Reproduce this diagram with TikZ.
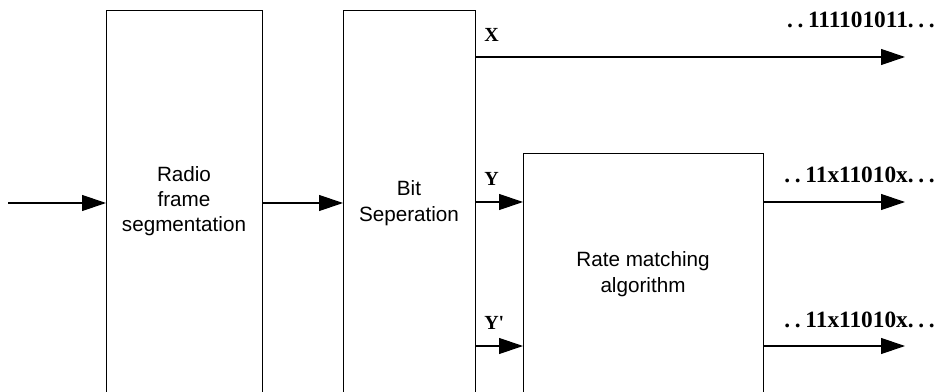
\documentclass[tikz,border=0pt]{standalone}
\usepackage{fontspec}
\setmainfont{Liberation Serif}
\setsansfont{Liberation Sans}
\usetikzlibrary{arrows.meta}
\newcommand{\dsp}{\hspace{3.5pt}}
\begin{document}
\begin{tikzpicture}[x=0.75pt,y=-0.75pt,
  blk/.style={draw,line width=0.6pt,rectangle,anchor=north west,inner sep=0pt},
  blktext/.style={font=\sffamily\fontsize{15.5}{19}\selectfont,align=center},
  arr/.style={line width=0.9pt,-{Triangle[length=18pt,width=12pt]}},
  sig/.style={font=\bfseries\fontsize{15}{16}\selectfont,anchor=west,inner sep=0pt},
  bits/.style={font=\bfseries\fontsize{17.5}{18}\selectfont,anchor=east,inner sep=0pt}]
\useasboundingbox (0,0) rectangle (943,392);
\clip (0,0) rectangle (943,392);
\node[blk,minimum width=117pt,minimum height=300pt] (b1) at (106,10) {};
\node[blk,minimum width=99pt,minimum height=300pt] (b2) at (343,10) {};
\node[blk,minimum width=180pt,minimum height=200pt] (b3) at (523,153) {};
\node[blktext] (t1) at (184,201) {Radio\\frame\\segmentation};
\node[blktext] (t2) at (409,203) {Bit\\Seperation};
\node[blktext] (t3) at (643,274) {Rate matching\\algorithm};
\coordinate (in) at (8,203);
\coordinate (xo) at (905,57);
\coordinate (y1) at (475,202);
\coordinate (y2) at (475,346);
\coordinate (o1) at (905,202);
\coordinate (o2) at (905,346);
\draw[arr] (in) -- (in -| b1.west);
\draw[arr] (b1.east |- in) -- (b2.west |- in);
\draw[arr] (b2.east |- xo) -- (xo);
\draw[arr] (y1) -- (y1 -| b3.west);
\draw[arr] (y2) -- (y2 -| b3.west);
\draw[arr] (b3.east |- o1) -- (o1);
\draw[arr] (b3.east |- o2) -- (o2);
\node[sig] (lx) at (484,35) {X};
\node[sig] (ly) at (484,179) {Y};
\node[sig] (lyp) at (484,323) {Y\textquotesingle};
\node[bits] (bx) at (935,20) {.\dsp.\dsp111101011.\dsp.\dsp.};
\node[bits] (b1o) at (935,175) {.\dsp.\dsp11x11010x.\dsp.\dsp.};
\node[bits] (b2o) at (935,320) {.\dsp.\dsp11x11010x.\dsp.\dsp.};
\end{tikzpicture}
\end{document}
